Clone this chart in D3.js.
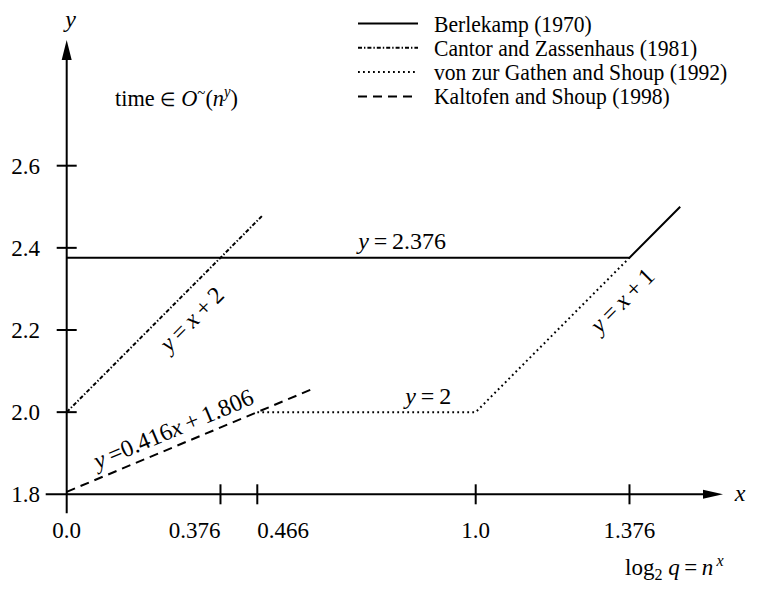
<!DOCTYPE html>
<html>
<head>
<meta charset="utf-8">
<script src="https://cdn.jsdelivr.net/npm/d3@7"></script>
<style>
  body { margin: 0; background: #fff; }
  svg { display: block; }
  text { font-family: "Liberation Serif", "Times New Roman", serif; font-size: 22px; fill: #000; }
  .tick-label { font-size: 23px; }
</style>
</head>
<body>
<div id="chart"></div>
<script>
// tick values and labels
const xTickValues = [0.0, 0.376, 0.466, 1.0, 1.376];
const xTickLabels = ["0.0", "0.376", "0.466", "1.0", "1.376"];
const yTickValues = [1.8, 2.0, 2.2, 2.4, 2.6];
const yTickLabels = ["1.8", "2.0", "2.2", "2.4", "2.6"];

// series (x = log_n log_2 q, y = exponent)
const seriesNames = [
  "Berlekamp (1970)",
  "Cantor and Zassenhaus (1981)",
  "von zur Gathen and Shoup (1992)",
  "Kaltofen and Shoup (1998)"
];
const berlekamp = [[0, 2.376], [1.376, 2.376], [1.5, 2.5]];
const cantorZassenhaus = [[0, 2.0], [0.48, 2.48]];
const gathenShoup = [[0.466, 2.0], [1.0, 2.0], [1.376, 2.376]];
const kaltofenShoup = [[0, 1.806], [0.6, 2.056]];

const width = 761, height = 599;
const thin = "\u2009";

const svg = d3.select("#chart").append("svg")
  .attr("width", width)
  .attr("height", height);

const x = d3.scaleLinear().domain([0, 1]).range([66.7, 475.7]);
const y = d3.scaleLinear().domain([1.8, 2.6]).range([494.3, 165.7]);

const x0 = x(0), y0 = y(1.8);

// axes
svg.append("line")
  .attr("x1", x0 - 21).attr("x2", 706)
  .attr("y1", y0).attr("y2", y0)
  .attr("stroke", "#000").attr("stroke-width", 2);
svg.append("path")
  .attr("d", `M703,${y0 - 4.5}L723,${y0}L703,${y0 + 4.5}Z`)
  .attr("fill", "#000");
svg.append("line")
  .attr("x1", x0).attr("x2", x0)
  .attr("y1", y0 + 19).attr("y2", 57)
  .attr("stroke", "#000").attr("stroke-width", 2);
svg.append("path")
  .attr("d", `M${x0 - 5},60L${x0},40L${x0 + 5},60Z`)
  .attr("fill", "#000");

svg.append("text").attr("x", 740).attr("y", 501)
  .attr("text-anchor", "middle").style("font-style", "italic").style("font-size", "24px").text("x");
svg.append("text").attr("x", x0 + 4).attr("y", 27)
  .attr("text-anchor", "middle").style("font-style", "italic").style("font-size", "24px").text("y");

// x ticks
svg.append("g").selectAll("line")
  .data(xTickValues.filter(d => d > 0))
  .join("line")
  .attr("x1", d => x(d)).attr("x2", d => x(d))
  .attr("y1", y0 - 10).attr("y2", y0 + 10)
  .attr("stroke", "#000").attr("stroke-width", 2);
// the two close ticks push their labels apart
const xAnchor = d => d === 0.376 ? "end" : d === 0.466 ? "start" : "middle";
svg.append("g").selectAll("text")
  .data(xTickValues)
  .join("text")
  .attr("class", "tick-label")
  .attr("x", d => x(d))
  .attr("y", 538)
  .attr("text-anchor", xAnchor)
  .text((d, i) => xTickLabels[i]);

// y ticks
svg.append("g").selectAll("line")
  .data(yTickValues.filter(d => d > 1.8))
  .join("line")
  .attr("x1", x0 - 10).attr("x2", x0 + 10)
  .attr("y1", d => y(d)).attr("y2", d => y(d))
  .attr("stroke", "#000").attr("stroke-width", 2);
svg.append("g").selectAll("text")
  .data(yTickValues)
  .join("text")
  .attr("class", "tick-label")
  .attr("x", 40)
  .attr("y", d => y(d) + 8)
  .attr("text-anchor", "end")
  .text((d, i) => yTickLabels[i]);

// series lines
const styles = [
  { data: berlekamp, dash: null },
  { data: cantorZassenhaus, dash: "4,2,1.4,2" },
  { data: gathenShoup, dash: "1.8,3.2" },
  { data: kaltofenShoup, dash: "9,6" }
];
const line = d3.line().x(d => x(d[0])).y(d => y(d[1]));

svg.append("g").selectAll("path")
  .data(styles)
  .join("path")
  .attr("d", d => line(d.data))
  .attr("fill", "none")
  .attr("stroke", "#000")
  .attr("stroke-width", 2)
  .attr("stroke-dasharray", d => d.dash);

// legend (source type is a bit condensed, so squeeze it)
const legend = svg.append("g").selectAll("g")
  .data(styles)
  .join("g")
  .attr("transform", (d, i) => `translate(358,${23.5 + i * 24.3})`);
legend.append("line")
  .attr("x1", 0).attr("x2", 60)
  .attr("stroke", "#000").attr("stroke-width", 2)
  .attr("stroke-dasharray", d => d.dash);
legend.append("text")
  .attr("transform", "translate(76,8) scale(0.9,1)")
  .style("font-size", "24px")
  .text((d, i) => seriesNames[i]);

// annotations
svg.append("text").attr("x", x(0.82)).attr("y", y(2.376) - 9)
  .attr("text-anchor", "middle")
  .style("font-size", "24px")
  .call(t => {
    t.append("tspan").style("font-style", "italic").text("y");
    t.append("tspan").text(thin + "=" + thin + "2.376");
  });
svg.append("text").attr("x", x(0.884)).attr("y", y(2.0) - 8)
  .attr("text-anchor", "middle")
  .style("font-size", "24px")
  .call(t => {
    t.append("tspan").style("font-style", "italic").text("y");
    t.append("tspan").text(thin + "=" + thin + "2");
  });

function slopeAngle(pts) {
  const a = pts[0], b = pts[1];
  return Math.atan2(y(b[1]) - y(a[1]), x(b[0]) - x(a[0])) * 180 / Math.PI;
}

function rotatedLabel(px, py, angle, dy, parts) {
  const t = svg.append("text")
    .attr("transform", `translate(${px},${py}) rotate(${angle})`)
    .attr("y", dy)
    .attr("text-anchor", "middle")
    .style("font-size", "24px");
  parts.forEach(p => t.append("tspan").style("font-style", p[1] ? "italic" : "normal").text(p[0]));
}

rotatedLabel(x(0.266), y(2.266), slopeAngle(cantorZassenhaus), 31,
  [["y", true], [thin + "=" + thin, false], ["x", true], [thin + "+" + thin + "2", false]]);
rotatedLabel(x(1.315), y(2.315), slopeAngle([[1.0, 2.0], [1.376, 2.376]]), 33,
  [["y", true], [thin + "=" + thin, false], ["x", true], [thin + "+" + thin + "1", false]]);
rotatedLabel(x(0.277), y(0.416 * 0.277 + 1.806), slopeAngle(kaltofenShoup), -9,
  [["y", true], [thin + "=" + "0.416", false], ["x", true], [thin + "+" + thin + "1.806", false]]);

// complexity note
svg.append("text")
  .attr("transform", "translate(115,106) scale(0.93,1)")
  .style("font-size", "24px")
  .call(t => {
    t.append("tspan").text("time ");
    t.append("tspan").style("font-size", "19px").text("\u2208");
    t.append("tspan").text(" ");
    t.append("tspan").style("font-style", "italic").text("O");
    t.append("tspan").attr("dy", -8).style("font-size", "16px").text("~");
    t.append("tspan").attr("dy", 8).text("(");
    t.append("tspan").style("font-style", "italic").text("n");
    t.append("tspan").attr("dy", -9).style("font-size", "16px").style("font-style", "italic").text("y");
    t.append("tspan").attr("dy", 9).text(")");
  });

// x axis title
svg.append("text").attr("x", 625).attr("y", 575)
  .style("font-size", "23px")
  .call(t => {
    t.append("tspan").text("log");
    t.append("tspan").attr("dy", 5).style("font-size", "16px").text("2");
    t.append("tspan").attr("dy", -5).text(" ");
    t.append("tspan").style("font-style", "italic").text("q");
    t.append("tspan").text(thin + "=" + thin);
    t.append("tspan").style("font-style", "italic").text("n");
    t.append("tspan").attr("dy", -9).style("font-size", "16px").style("font-style", "italic").text(thin + "x");
  });
</script>
</body>
</html>
